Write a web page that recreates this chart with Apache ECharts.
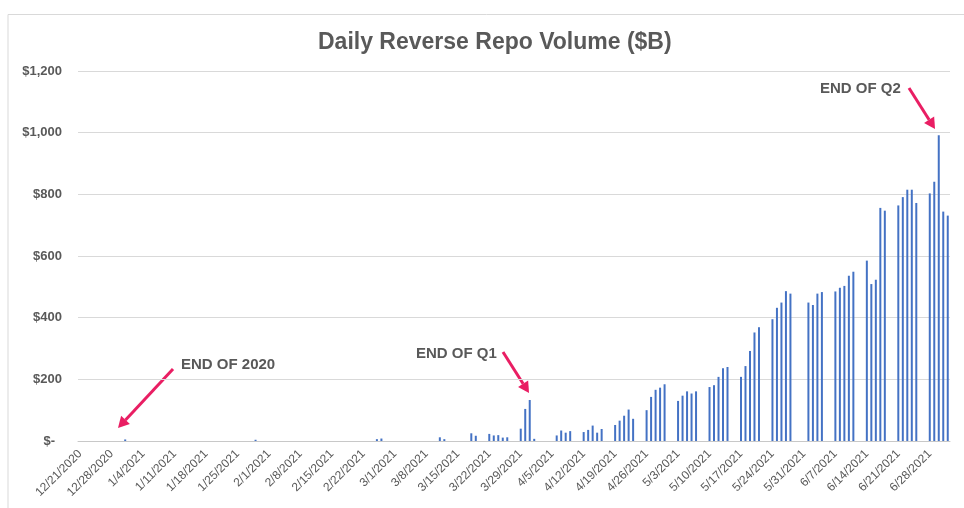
<!DOCTYPE html>
<html>
<head>
<meta charset="utf-8">
<script src="https://cdn.jsdelivr.net/npm/echarts@6/dist/echarts.min.js"></script>
<style>
  html, body { margin: 0; padding: 0; background: #fff; }
  #chart { width: 964px; height: 508px; }
</style>
</head>
<body>
<div id="chart"></div>
<script>
// axis range (calendar days, one slot per day)
const startDate = '2020-12-21'
const endDate = '2021-07-02'

// days with a reverse repo operation and its volume ($B)
const tradeDates = [
  '2020-12-31', '2021-01-29', '2021-02-25', '2021-02-26',
  '2021-03-11', '2021-03-12', '2021-03-18', '2021-03-19',
  '2021-03-22', '2021-03-23', '2021-03-24', '2021-03-25', '2021-03-26',
  '2021-03-29', '2021-03-30', '2021-03-31', '2021-04-01',
  '2021-04-06', '2021-04-07', '2021-04-08', '2021-04-09',
  '2021-04-12', '2021-04-13', '2021-04-14', '2021-04-15', '2021-04-16',
  '2021-04-19', '2021-04-20', '2021-04-21', '2021-04-22', '2021-04-23',
  '2021-04-26', '2021-04-27', '2021-04-28', '2021-04-29', '2021-04-30',
  '2021-05-03', '2021-05-04', '2021-05-05', '2021-05-06', '2021-05-07',
  '2021-05-10', '2021-05-11', '2021-05-12', '2021-05-13', '2021-05-14',
  '2021-05-17', '2021-05-18', '2021-05-19', '2021-05-20', '2021-05-21',
  '2021-05-24', '2021-05-25', '2021-05-26', '2021-05-27', '2021-05-28',
  '2021-06-01', '2021-06-02', '2021-06-03', '2021-06-04',
  '2021-06-07', '2021-06-08', '2021-06-09', '2021-06-10', '2021-06-11',
  '2021-06-14', '2021-06-15', '2021-06-16', '2021-06-17', '2021-06-18',
  '2021-06-21', '2021-06-22', '2021-06-23', '2021-06-24', '2021-06-25',
  '2021-06-28', '2021-06-29', '2021-06-30', '2021-07-01', '2021-07-02'
]
const volumes = [
  5, 4, 6, 8,
  12, 6, 25, 17,
  23, 18, 19, 11, 12,
  40, 104, 133, 7,
  18, 34, 27, 32,
  29, 36, 50, 27, 39,
  52, 66, 82, 102, 72,
  100, 143, 166, 173, 184,
  130, 147, 161, 154, 161,
  175, 181, 208, 236, 240,
  208, 243, 292, 352, 369,
  395, 432, 449, 486, 478,
  449, 441, 478, 483,
  485, 497, 503, 536, 549,
  585, 509, 523, 756, 747,
  764, 791, 815, 815, 772,
  803, 841, 992, 744, 731
]

// annotations: text, text position, arrow start, arrow tip
const notes = [
  { text: 'END OF 2020', x: 181, y: 365, from: [173, 369], to: [118, 428] },
  { text: 'END OF Q1', x: 416, y: 354, from: [503, 352], to: [529, 393] },
  { text: 'END OF Q2', x: 820, y: 89, from: [909, 88], to: [935, 129] }
]

const TEXT = '#595959'
const FONT = '"Liberation Sans", Arial, sans-serif'
const ARROW = '#E91E63'

// build the calendar-day category list
const days = []
for (let t = Date.parse(startDate); t <= Date.parse(endDate); t += 86400000) {
  days.push(new Date(t).toISOString().slice(0, 10))
}
const valueByDate = {}
tradeDates.forEach((d, i) => { valueByDate[d] = volumes[i] })
const barData = days.map(d => (d in valueByDate ? valueByDate[d] : '-'))

const fmtDate = iso => {
  const [y, m, d] = iso.split('-')
  return Number(m) + '/' + Number(d) + '/' + y
}

// arrow = thick line + triangular head
const arrowGraphics = []
notes.forEach(n => {
  const [x1, y1] = n.from
  const [x2, y2] = n.to
  const ang = Math.atan2(y2 - y1, x2 - x1)
  const headLen = 11
  const headW = 6
  const bx = x2 - headLen * Math.cos(ang)
  const by = y2 - headLen * Math.sin(ang)
  const px = -Math.sin(ang) * headW
  const py = Math.cos(ang) * headW
  arrowGraphics.push({
    type: 'line',
    shape: { x1: x1, y1: y1, x2: bx, y2: by },
    style: { stroke: ARROW, lineWidth: 3 }
  })
  arrowGraphics.push({
    type: 'polygon',
    shape: { points: [[x2, y2], [bx + px, by + py], [bx - px, by - py]] },
    style: { fill: ARROW }
  })
  arrowGraphics.push({
    type: 'text',
    x: n.x,
    y: n.y,
    style: {
      text: n.text,
      fill: TEXT,
      font: 'bold 15px ' + FONT,
      verticalAlign: 'middle'
    }
  })
})

const chart = echarts.init(document.getElementById('chart'))

chart.setOption({
  animation: false,
  backgroundColor: '#fff',
  title: {
    text: 'Daily Reverse Repo Volume ($B)',
    left: 313,
    top: 26,
    textStyle: {
      color: TEXT,
      fontSize: 23,
      fontWeight: 'bold',
      fontFamily: FONT
    }
  },
  grid: { left: 78, right: 14, top: 71, bottom: 67 },
  xAxis: {
    type: 'category',
    data: days,
    boundaryGap: true,
    axisLine: { lineStyle: { color: '#c8c8c8' } },
    axisTick: { interval: 6, length: 5, lineStyle: { color: '#c8c8c8' } },
    axisLabel: {
      interval: 6,
      rotate: 45,
      margin: 11,
      color: TEXT,
      fontSize: 12,
      fontFamily: FONT,
      formatter: v => fmtDate(v)
    }
  },
  yAxis: {
    type: 'value',
    min: 0,
    max: 1200,
    interval: 200,
    axisLine: { show: false },
    axisTick: { show: false },
    splitLine: { lineStyle: { color: '#d9d9d9' } },
    axisLabel: {
      margin: 16,
      color: TEXT,
      fontSize: 13,
      fontWeight: 'bold',
      fontFamily: FONT,
      formatter: v => (v === 0 ? '{z|$-}' : '$' + v.toLocaleString('en-US')),
      rich: {
        z: { color: TEXT, fontSize: 13, fontWeight: 'bold', fontFamily: FONT, padding: [0, 7, 0, 0] }
      }
    }
  },
  series: [{
    type: 'bar',
    data: barData,
    barWidth: 2,
    itemStyle: { color: '#4472C4' }
  }],
  graphic: [
    {
      type: 'rect',
      shape: { x: 8, y: 14.5, width: 1000, height: 600 },
      style: { fill: 'none', stroke: '#d9d9d9', lineWidth: 1 },
      silent: true
    }
  ].concat(arrowGraphics)
})
</script>
</body>
</html>
